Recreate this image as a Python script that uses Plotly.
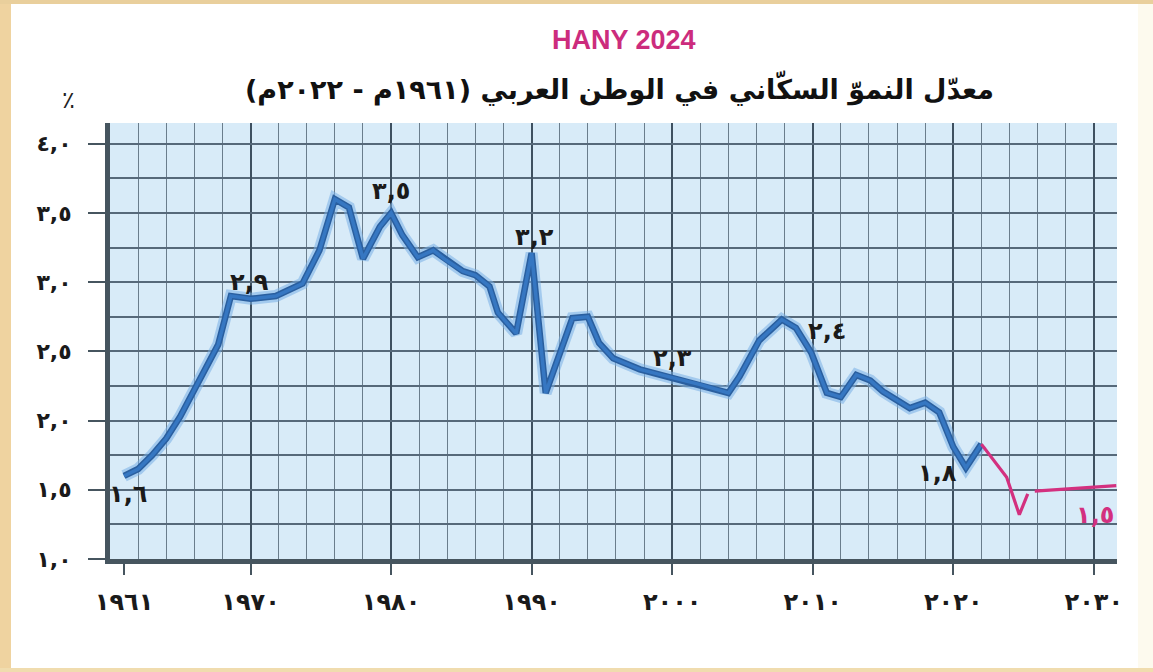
import plotly.graph_objects as go

# ---------------- data ----------------
hist_years = [1961, 1962, 1963, 1964, 1965, 1966, 1967, 1967.7, 1968.6, 1970, 1971.8,
              1973.7, 1974.9, 1976, 1977, 1978, 1979.2, 1980, 1980.8, 1981.9, 1983,
              1983.9, 1985.1, 1986, 1987, 1987.6, 1988.9, 1990, 1991, 1992.9, 1994,
              1994.8, 1995.8, 1997.7, 2000, 2002, 2004, 2004.8, 2006.2, 2007.8, 2008.8,
              2009.9, 2011, 2012, 2013.1, 2014.1, 2015, 2016.9, 2018, 2019, 2020,
              2020.9, 2022]
hist_values = [1.60, 1.65, 1.75, 1.87, 2.03, 2.22, 2.42, 2.55, 2.90, 2.88, 2.90,
               2.99, 3.23, 3.60, 3.54, 3.17, 3.40, 3.50, 3.34, 3.18, 3.23,
               3.16, 3.08, 3.05, 2.97, 2.78, 2.63, 3.21, 2.20, 2.74, 2.75,
               2.56, 2.45, 2.37, 2.31, 2.26, 2.20, 2.32, 2.58, 2.73, 2.67,
               2.49, 2.20, 2.17, 2.33, 2.29, 2.21, 2.09, 2.13, 2.06, 1.81,
               1.66, 1.83]

proj_years = [2022, 2023.8, 2024.7, 2025.3, None, 2025.8, 2031.6]
proj_values = [1.83, 1.59, 1.32, 1.47, None, 1.49, 1.53]

label_years = [1961.3, 1969.9, 1980, 1990.2, 2000, 2011, 2018.9]
label_values = [1.47, 3.0, 3.66, 3.33, 2.45, 2.65, 1.62]
label_texts = ["١,٦", "٢,٩", "٣,٥", "٣,٢", "٢,٣", "٢,٤", "١,٨"]

proj_label_year = 2030.1
proj_label_value = 1.32
proj_label_text = "١,٥"

x_tick_vals = [1961, 1970, 1980, 1990, 2000, 2010, 2020, 2030]
x_tick_text = ["١٩٦١", "١٩٧٠", "١٩٨٠", "١٩٩٠", "٢٠٠٠", "٢٠١٠", "٢٠٢٠", "٢٠٣٠"]
y_tick_vals = [1.0, 1.5, 2.0, 2.5, 3.0, 3.5, 4.0]
y_tick_text = ["١,٠", "١,٥", "٢,٠", "٢,٥", "٣,٠", "٣,٥", "٤,٠"]

title_top = "HANY 2024"
title_main = "معدّل النموّ السكّاني في الوطن العربي (١٩٦١م - ٢٠٢٢م)\u200F"
unit_text = "٪"

# ---------------- styling ----------------
BLUE = "#3677c2"
BLUE_DARK = "#2a5f9f"
GLOW = "rgba(120,175,230,0.55)"
PINK = "#d3307f"
AX = "#46555f"
GRID = "#56697a"
ARFONT = "DejaVu Sans"

fig = go.Figure()

fig.add_trace(go.Scatter(x=hist_years, y=hist_values, mode="lines",
                         line=dict(color=GLOW, width=12), hoverinfo="skip", showlegend=False))
fig.add_trace(go.Scatter(x=hist_years, y=hist_values, mode="lines",
                         line=dict(color=BLUE_DARK, width=6.5), hoverinfo="skip", showlegend=False))
fig.add_trace(go.Scatter(x=hist_years, y=hist_values, mode="lines",
                         line=dict(color=BLUE, width=3.5), showlegend=False))
fig.add_trace(go.Scatter(x=proj_years, y=proj_values, mode="lines",
                         line=dict(color=PINK, width=3.2), connectgaps=False, showlegend=False))
fig.add_trace(go.Scatter(x=[x_tick_vals[0]], y=[y_tick_vals[0]], xaxis="x2", mode="markers",
                         marker=dict(opacity=0), hoverinfo="skip", showlegend=False))

x_range = [1960, 2031.65]
y_range = [1.0, 4.15]

fig.update_layout(
    width=1153, height=672,
    margin=dict(l=110, r=36, t=123, b=113),
    paper_bgcolor="white",
    plot_bgcolor="#d8ebf8",
    showlegend=False,
    xaxis=dict(range=x_range, tickmode="linear", tick0=1960, dtick=10,
               showticklabels=False, ticks="",
               showgrid=True, gridcolor="#3e5060", gridwidth=2,
               minor=dict(tick0=1960, dtick=2, showgrid=True, gridcolor="#6a7d8c", gridwidth=1.3),
               showline=True, linewidth=5, linecolor=AX, zeroline=False),
    xaxis2=dict(range=x_range, overlaying="x", side="bottom",
                tickmode="array", tickvals=x_tick_vals, ticktext=x_tick_text,
                ticks="outside", ticklen=15, tickwidth=2, tickcolor=AX,
                ticklabelstandoff=6,
                tickfont=dict(family=ARFONT, size=24, color="#1a1a1a", weight="bold"),
                showgrid=False, showline=False, zeroline=False),
    yaxis=dict(range=y_range, tickmode="array", tickvals=y_tick_vals, ticktext=y_tick_text,
               ticks="outside", ticklen=17, tickwidth=2, tickcolor=AX,
               ticklabelstandoff=12,
               tickfont=dict(family=ARFONT, size=22, color="#1a1a1a", weight="bold"),
               showgrid=True, gridcolor=GRID, gridwidth=1.8,
               minor=dict(dtick=0.25, tick0=1.0, showgrid=True, gridcolor=GRID, gridwidth=1.5),
               showline=True, linewidth=5, linecolor=AX, zeroline=False),
)

for yx, yv, t in zip(label_years, label_values, label_texts):
    fig.add_annotation(x=yx, y=yv, text=t, showarrow=False,
                       font=dict(family=ARFONT, size=24, color="#1a1a1a", weight="bold"))
fig.add_annotation(x=proj_label_year, y=proj_label_value, text=proj_label_text, showarrow=False,
                   font=dict(family=ARFONT, size=24, color=PINK, weight="bold"))

fig.add_annotation(xref="paper", yref="paper", x=0.510, y=1.190, yanchor="middle",
                   text="<b>" + title_top + "</b>",
                   showarrow=False, font=dict(family="Liberation Sans", size=27, color="#cc2c7d"))
fig.add_annotation(xref="paper", yref="paper", x=0.506, y=1.080, yanchor="middle",
                   text="<b>" + title_main + "</b>",
                   showarrow=False, font=dict(family=ARFONT, size=27, color="#111"))
fig.add_annotation(xref="paper", yref="paper", x=-0.050, y=1.053, yanchor="middle",
                   text=unit_text,
                   showarrow=False, font=dict(family=ARFONT, size=24, color="#222"))

def px_x(p):
    return (p - 110) / 1007.0

def px_y(p):
    return (559 - p) / 436.0

frame = [
    (0, 0, 11, 672, "#efd3a0"),
    (0, 0, 1153, 4, "#e9cf9c"),
    (0, 668, 1153, 672, "#f0dcae"),
    (1138, 4, 1153, 668, "#fdfaee"),
]
for x0, y0, x1, y1, c in frame:
    fig.add_shape(type="rect", xref="paper", yref="paper",
                  x0=px_x(x0), x1=px_x(x1), y0=px_y(y1), y1=px_y(y0),
                  fillcolor=c, line=dict(width=0), layer="below")

fig.write_html("out.html", config={"displayModeBar": False},
               post_script="document.body.style.margin='0';")
